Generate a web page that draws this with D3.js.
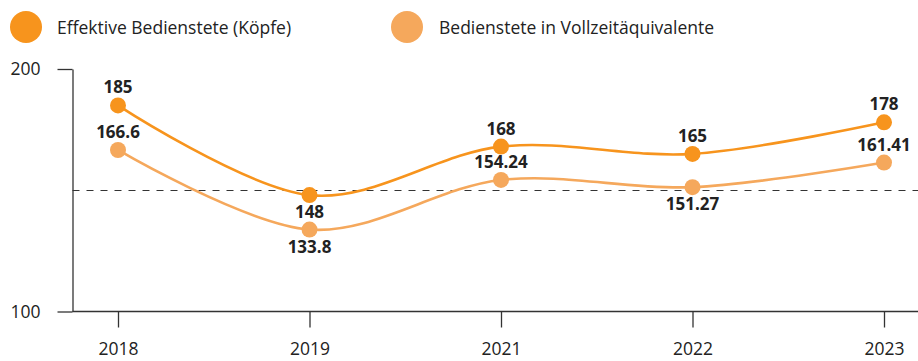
<!DOCTYPE html>
<html>
<head>
<meta charset="utf-8">
<script src="https://cdn.jsdelivr.net/npm/d3@7/dist/d3.min.js"></script>
<style>
  html, body { margin: 0; padding: 0; background: #fff; }
  svg { display: block; font-family: "Open Sans", "Noto Sans", sans-serif; }
</style>
</head>
<body>
<svg id="chart" width="918" height="361"></svg>
<script>
// Staff numbers per year
const years = ["2018", "2019", "2021", "2022", "2023"];
const headcount = [185, 148, 168, 165, 178];
const fte = [166.6, 133.8, 154.24, 151.27, 161.41];
const seriesNames = ["Effektive Bedienstete (Köpfe)", "Bedienstete in Vollzeitäquivalente"];
const seriesColors = ["#f7941d", "#f5a85c"];
// label placement for each point: true = above the marker
const headcountAbove = [true, false, true, true, true];
const fteAbove = [true, false, true, false, true];
const yTicks = [100, 200];
const refLine = 150;

const svg = d3.select("#chart");
const W = 918, H = 361;
const axisX = 72.5, axisY = 311.5;

const x = d3.scalePoint().domain(years).range([118, 884]);
const y = d3.scaleLinear().domain([100, 200]).range([axisY, 69]);

const textColor = "#222";

// reference line at 150
svg.append("line")
  .attr("x1", axisX).attr("x2", W)
  .attr("y1", Math.round(y(refLine)) + 0.5).attr("y2", Math.round(y(refLine)) + 0.5)
  .attr("stroke", "#333").attr("stroke-width", 1)
  .attr("stroke-dasharray", "7,7");

// y axis
const yAxis = svg.append("g").attr("transform", `translate(${axisX},0)`)
  .call(d3.axisLeft(y).tickValues(yTicks).tickSize(15).tickPadding(17).tickSizeOuter(0));
yAxis.select(".domain").attr("stroke", "#333").attr("stroke-width", 1.3);
yAxis.selectAll(".tick line").attr("stroke", "#333").attr("stroke-width", 1.3);
yAxis.selectAll(".tick text").attr("fill", textColor)
  .style("font-size", "17.5px").style("font-family", "'Open Sans', sans-serif");

// x axis
const xAxis = svg.append("g").attr("transform", `translate(0,${axisY})`)
  .call(d3.axisBottom(x).tickSize(16).tickPadding(15).tickSizeOuter(0));
xAxis.select(".domain").attr("d", `M${axisX},0H${W}`)
  .attr("stroke", "#333").attr("stroke-width", 1.3);
xAxis.selectAll(".tick line").attr("stroke", "#333").attr("stroke-width", 1.3);
xAxis.selectAll(".tick text").attr("fill", textColor)
  .style("font-size", "17.5px").style("font-family", "'Open Sans', sans-serif");

const line = d3.line()
  .x((d, i) => x(years[i]))
  .y(d => y(d))
  .curve(d3.curveCatmullRom.alpha(0));

function drawSeries(values, color, above) {
  svg.append("path")
    .datum(values)
    .attr("d", line)
    .attr("fill", "none")
    .attr("stroke", color)
    .attr("stroke-width", 2.6);
  svg.append("g").selectAll("circle")
    .data(values)
    .join("circle")
    .attr("cx", (d, i) => x(years[i]))
    .attr("cy", d => y(d))
    .attr("r", 8)
    .attr("fill", color);
  svg.append("g").selectAll("text")
    .data(values)
    .join("text")
    .attr("x", (d, i) => x(years[i]))
    .attr("y", (d, i) => y(d) + (above[i] ? -12 : 23))
    .attr("text-anchor", "middle")
    .attr("fill", textColor)
    .style("font-size", "17px")
    .style("font-weight", "bold")
    .text(d => d);
}

drawSeries(fte, seriesColors[1], fteAbove);
drawSeries(headcount, seriesColors[0], headcountAbove);

// legend
const legendPos = [[26, 57], [407, 439]];
seriesNames.forEach((name, i) => {
  const g = svg.append("g");
  g.append("circle").attr("cx", legendPos[i][0]).attr("cy", 27).attr("r", 16)
    .attr("fill", seriesColors[i]);
  g.append("text").attr("x", legendPos[i][1]).attr("y", 33.5)
    .attr("fill", textColor).style("font-size", "17.5px")
    .text(name);
});
</script>
</body>
</html>
